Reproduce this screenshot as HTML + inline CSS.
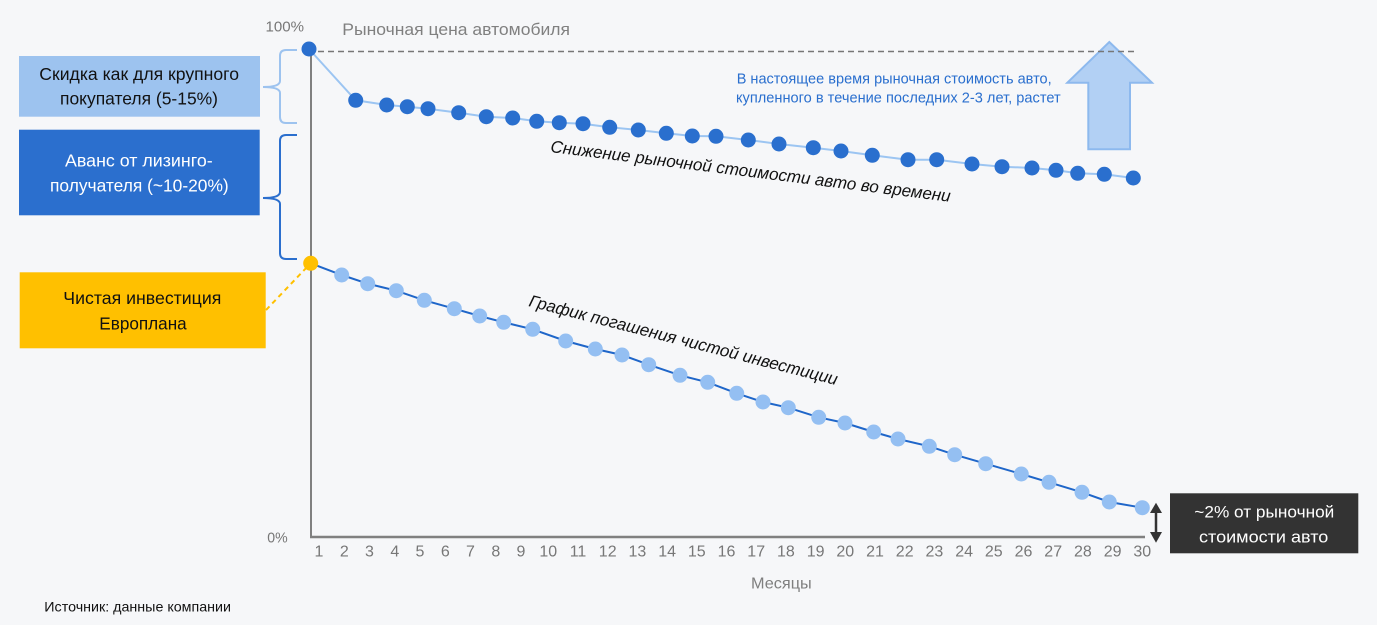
<!DOCTYPE html>
<html><head><meta charset="utf-8"><style>
html,body{margin:0;padding:0;background:#f6f7f9;}
svg{display:block;font-family:"Liberation Sans","DejaVu Sans",sans-serif;}
</style></head><body>
<svg width="1377" height="625" viewBox="0 0 1377 625" xmlns="http://www.w3.org/2000/svg">
<rect width="1377" height="625" fill="#f6f7f9"/>

<!-- left boxes -->
<rect x="19" y="56" width="241" height="60.7" fill="#9dc3ef"/>
<text x="39.3" y="80" font-size="17.5" fill="#111" textLength="199.7" lengthAdjust="spacingAndGlyphs">Скидка как для крупного</text>
<text x="60" y="104.3" font-size="17.5" fill="#111" textLength="158" lengthAdjust="spacingAndGlyphs">покупателя (5-15%)</text>

<rect x="19" y="129.7" width="240.7" height="85.6" fill="#2b6fce"/>
<text x="65" y="166.7" font-size="17.5" fill="#fff" textLength="147.7" lengthAdjust="spacingAndGlyphs">Аванс от лизинго-</text>
<text x="50" y="191.7" font-size="17.5" fill="#fff" textLength="178.7" lengthAdjust="spacingAndGlyphs">получателя (~10-20%)</text>

<rect x="19.7" y="272.3" width="246" height="76" fill="#ffc000"/>
<text x="63.3" y="304" font-size="17.5" fill="#111" textLength="158" lengthAdjust="spacingAndGlyphs">Чистая инвестиция</text>
<text x="99.3" y="329.3" font-size="17.5" fill="#111" textLength="87.4" lengthAdjust="spacingAndGlyphs">Европлана</text>

<!-- brackets -->
<path d="M297,50 L286,50 Q280,50 280,56 L280,81 Q280,87 263,87 Q280,87 280,93 L280,117 Q280,123 286,123 L297,123" fill="none" stroke="#9dc3ef" stroke-width="2"/>
<path d="M297,135 L286,135 Q280,135 280,141 L280,192 Q280,198 263,198 Q280,198 280,204 L280,253 Q280,259 286,259 L297,259" fill="none" stroke="#2b6fce" stroke-width="2"/>

<!-- yellow dashed connector -->
<line x1="266" y1="310" x2="310" y2="264" stroke="#ffc000" stroke-width="2" stroke-dasharray="5,4"/>

<!-- axes -->
<line x1="311" y1="49" x2="311" y2="537" stroke="#808080" stroke-width="2"/>
<line x1="310" y1="537" x2="1145" y2="537" stroke="#808080" stroke-width="2.5"/>

<text x="265.5" y="31.7" font-size="15" fill="#777" textLength="38.5" lengthAdjust="spacingAndGlyphs">100%</text>
<text x="267.3" y="542.7" font-size="15" fill="#777" textLength="20.4" lengthAdjust="spacingAndGlyphs">0%</text>
<text x="342.3" y="35" font-size="17" fill="#808080" textLength="227.7" lengthAdjust="spacingAndGlyphs">Рыночная цена автомобиля</text>

<!-- up arrow -->
<polygon points="1109.3,42 1152,82.7 1130,82.7 1130,149.3 1088.3,149.3 1088.3,82.7 1067.3,82.7" fill="#a8cbf3" fill-opacity="0.88" stroke="#8db9ee" stroke-width="2"/>

<!-- dashed 100% line -->
<line x1="318" y1="51.5" x2="1137" y2="51.5" stroke="#777" stroke-width="1.5" stroke-dasharray="6,4"/>

<!-- blue annotation -->
<text x="736.7" y="83.3" font-size="14.5" fill="#2a6fce" textLength="315" lengthAdjust="spacingAndGlyphs">В настоящее время рыночная стоимость авто,</text>
<text x="736" y="102.7" font-size="14.5" fill="#2a6fce" textLength="324.7" lengthAdjust="spacingAndGlyphs">купленного в течение последних 2-3 лет, растет</text>

<!-- upper series -->
<polyline fill="none" stroke="#9cc5f2" stroke-width="2" points="309,49 355.7,100.3 386.7,105 407.3,106.7 428,108.7 458.7,112.7 486.3,116.7 512.7,118 536.7,121.3 559.3,122.7 583,123.7 609.7,127.3 638.3,130 666.3,133.3 692.3,136 716,136.3 748.3,140 779,144 813.3,147.7 841,151 872.3,155.3 908,159.7 936.7,159.7 972,164 1002,166.7 1032,168 1056,170.3 1077.7,173.3 1104.3,174.3 1133.3,178"/>
<g fill="#2a6fce">
<circle cx="309" cy="49" r="7.5"/><circle cx="355.7" cy="100.3" r="7.5"/><circle cx="386.7" cy="105" r="7.5"/><circle cx="407.3" cy="106.7" r="7.5"/><circle cx="428" cy="108.7" r="7.5"/><circle cx="458.7" cy="112.7" r="7.5"/><circle cx="486.3" cy="116.7" r="7.5"/><circle cx="512.7" cy="118" r="7.5"/><circle cx="536.7" cy="121.3" r="7.5"/><circle cx="559.3" cy="122.7" r="7.5"/><circle cx="583" cy="123.7" r="7.5"/><circle cx="609.7" cy="127.3" r="7.5"/><circle cx="638.3" cy="130" r="7.5"/><circle cx="666.3" cy="133.3" r="7.5"/><circle cx="692.3" cy="136" r="7.5"/><circle cx="716" cy="136.3" r="7.5"/><circle cx="748.3" cy="140" r="7.5"/><circle cx="779" cy="144" r="7.5"/><circle cx="813.3" cy="147.7" r="7.5"/><circle cx="841" cy="151" r="7.5"/><circle cx="872.3" cy="155.3" r="7.5"/><circle cx="908" cy="159.7" r="7.5"/><circle cx="936.7" cy="159.7" r="7.5"/><circle cx="972" cy="164" r="7.5"/><circle cx="1002" cy="166.7" r="7.5"/><circle cx="1032" cy="168" r="7.5"/><circle cx="1056" cy="170.3" r="7.5"/><circle cx="1077.7" cy="173.3" r="7.5"/><circle cx="1104.3" cy="174.3" r="7.5"/><circle cx="1133.3" cy="178" r="7.5"/>
</g>
<text transform="translate(550,152) rotate(7.1)" font-size="17" font-style="italic" fill="#111" textLength="403" lengthAdjust="spacingAndGlyphs">Снижение рыночной стоимости авто во времени</text>

<!-- lower series -->
<polyline fill="none" stroke="#1f66c9" stroke-width="2" points="310.7,263.3 341.7,275 367.7,283.7 396.3,290.7 424.3,300.3 454.3,308.7 479.7,316 503.7,322.3 532.7,329.3 565.7,341 595.3,349 622,355 648.7,364.7 680,375.3 707.7,382.3 736.7,393.3 763,402 788.3,407.7 818.7,417.3 845,423 873.7,432 898,439 929.3,446.3 954.7,454.7 985.7,463.7 1021.3,474 1049,482.3 1082,492.3 1109.3,502 1142.3,507.7"/>
<g fill="#94bff2">
<circle cx="341.7" cy="275" r="7.5"/><circle cx="367.7" cy="283.7" r="7.5"/><circle cx="396.3" cy="290.7" r="7.5"/><circle cx="424.3" cy="300.3" r="7.5"/><circle cx="454.3" cy="308.7" r="7.5"/><circle cx="479.7" cy="316" r="7.5"/><circle cx="503.7" cy="322.3" r="7.5"/><circle cx="532.7" cy="329.3" r="7.5"/><circle cx="565.7" cy="341" r="7.5"/><circle cx="595.3" cy="349" r="7.5"/><circle cx="622" cy="355" r="7.5"/><circle cx="648.7" cy="364.7" r="7.5"/><circle cx="680" cy="375.3" r="7.5"/><circle cx="707.7" cy="382.3" r="7.5"/><circle cx="736.7" cy="393.3" r="7.5"/><circle cx="763" cy="402" r="7.5"/><circle cx="788.3" cy="407.7" r="7.5"/><circle cx="818.7" cy="417.3" r="7.5"/><circle cx="845" cy="423" r="7.5"/><circle cx="873.7" cy="432" r="7.5"/><circle cx="898" cy="439" r="7.5"/><circle cx="929.3" cy="446.3" r="7.5"/><circle cx="954.7" cy="454.7" r="7.5"/><circle cx="985.7" cy="463.7" r="7.5"/><circle cx="1021.3" cy="474" r="7.5"/><circle cx="1049" cy="482.3" r="7.5"/><circle cx="1082" cy="492.3" r="7.5"/><circle cx="1109.3" cy="502" r="7.5"/><circle cx="1142.3" cy="507.7" r="7.5"/>
</g>
<circle cx="310.7" cy="263.3" r="7.5" fill="#ffc000"/>
<text transform="translate(528,306) rotate(14.4)" font-size="17" font-style="italic" fill="#111" textLength="318" lengthAdjust="spacingAndGlyphs">График погашения чистой инвестиции</text>

<!-- x tick labels -->
<g font-size="16" fill="#777" text-anchor="middle">
<text x="319" y="556.7">1</text><text x="344.3" y="556.7">2</text><text x="369.5" y="556.7">3</text><text x="394.8" y="556.7">4</text><text x="420" y="556.7">5</text><text x="445.3" y="556.7">6</text><text x="470.5" y="556.7">7</text><text x="495.8" y="556.7">8</text><text x="521" y="556.7">9</text>
<text x="548.3" y="556.7">10</text><text x="578" y="556.7">11</text><text x="607.7" y="556.7">12</text><text x="637.4" y="556.7">13</text><text x="667.1" y="556.7">14</text><text x="696.8" y="556.7">15</text><text x="726.5" y="556.7">16</text><text x="756.2" y="556.7">17</text><text x="785.9" y="556.7">18</text><text x="815.6" y="556.7">19</text><text x="845.3" y="556.7">20</text><text x="875" y="556.7">21</text><text x="904.7" y="556.7">22</text><text x="934.4" y="556.7">23</text><text x="964.1" y="556.7">24</text><text x="993.8" y="556.7">25</text><text x="1023.5" y="556.7">26</text><text x="1053.2" y="556.7">27</text><text x="1082.9" y="556.7">28</text><text x="1112.6" y="556.7">29</text><text x="1142.3" y="556.7">30</text>
</g>
<text x="751" y="588.3" font-size="16" fill="#7f7f7f" textLength="60.7" lengthAdjust="spacingAndGlyphs">Месяцы</text>

<!-- double arrow -->
<line x1="1156" y1="510" x2="1156" y2="535" stroke="#333" stroke-width="2.5"/>
<polygon points="1156,502.7 1150,513 1162,513" fill="#333"/>
<polygon points="1156,542.7 1150,532 1162,532" fill="#333"/>

<!-- dark box -->
<rect x="1170" y="493.3" width="188.3" height="60" fill="#333333"/>
<text x="1194.3" y="517.3" font-size="17" fill="#fff" textLength="140" lengthAdjust="spacingAndGlyphs">~2% от рыночной</text>
<text x="1199" y="542.3" font-size="17" fill="#fff" textLength="129.3" lengthAdjust="spacingAndGlyphs">стоимости авто</text>

<!-- source -->
<text x="44.3" y="611.7" font-size="14" fill="#111" textLength="186.7" lengthAdjust="spacingAndGlyphs">Источник: данные компании</text>
</svg>
</body></html>
